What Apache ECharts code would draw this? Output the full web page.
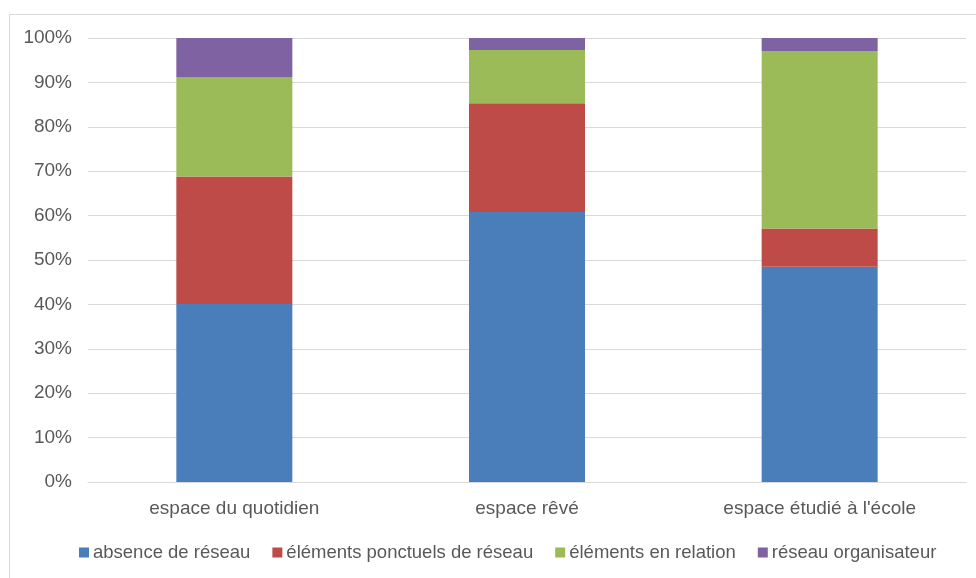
<!DOCTYPE html>
<html>
<head>
<meta charset="utf-8">
<script src="https://cdn.jsdelivr.net/npm/echarts@6/dist/echarts.min.js"></script>
<style>html,body{margin:0;padding:0;background:#fff;}#c{width:976px;height:578px;}</style>
</head>
<body>
<div id="c"></div>
<script>
var categories = ['espace du quotidien', 'espace rêvé', "espace étudié à l'école"];
var seriesNames = ['absence de réseau', 'éléments ponctuels de réseau', 'éléments en relation', 'réseau organisateur'];
var absence = [40.1, 60.8, 48.5];
var ponctuels = [28.7, 24.5, 8.6];
var relation = [22.3, 12.0, 40.0];
var organisateur = [8.9, 2.7, 2.9];
var colors = ['#4a7ebb', '#be4b48', '#9bbb59', '#7f62a1'];
var yTicks = [0, 10, 20, 30, 40, 50, 60, 70, 80, 90, 100];

var values = [absence, ponctuels, relation, organisateur];
var font = 'Liberation Sans';
var chart = echarts.init(document.getElementById('c'), null, {renderer: 'canvas'});
chart.setOption({
  animation: false,
  backgroundColor: '#fff',
  color: colors,
  graphic: [{
    type: 'polyline', silent: true,
    shape: {points: [[9.5, 578], [9.5, 14.5], [976, 14.5]]},
    style: {fill: 'none', stroke: '#d9d9d9', lineWidth: 1}
  }],
  grid: {left: 88, right: 10, top: 38, bottom: 96, containLabel: false},
  legend: {
    bottom: 11, left: 74,
    itemWidth: 10, itemHeight: 10, itemGap: 22,
    icon: 'rect',
    textStyle: {fontFamily: font, fontSize: 18.5, color: '#595959', padding: [0, 0, 0, -1]},
    data: seriesNames
  },
  xAxis: {
    type: 'category', data: categories,
    axisLine: {lineStyle: {color: '#d9d9d9'}},
    axisTick: {show: false},
    axisLabel: {fontFamily: font, fontSize: 19, color: '#595959', margin: 17}
  },
  yAxis: {
    type: 'value', min: 0, max: 100, interval: 10,
    axisLine: {show: false}, axisTick: {show: false},
    splitLine: {lineStyle: {color: '#d9d9d9'}},
    axisLabel: {fontFamily: font, fontSize: 19, color: '#595959', margin: 16,
      formatter: function (v) { return yTicks.indexOf(v) >= 0 ? v + '%' : ''; }}
  },
  series: seriesNames.map(function (n, i) {
    return {
      name: n, type: 'bar', stack: 'total', barWidth: 116,
      data: values[i],
      itemStyle: {color: colors[i]}
    };
  })
});
</script>
</body>
</html>
